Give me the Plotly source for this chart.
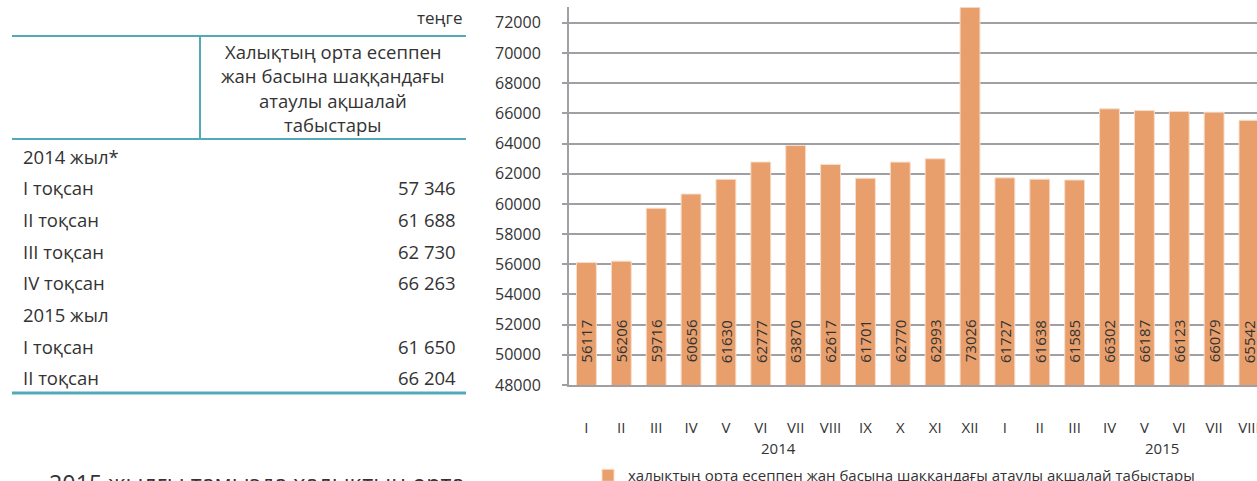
import plotly.graph_objects as go

# Chart data: monthly nominal money income per capita, tenge
months = ["I", "II", "III", "IV", "V", "VI", "VII", "VIII", "IX", "X", "XI", "XII",
          "I", "II", "III", "IV", "V", "VI", "VII", "VIII"]
income = [56117, 56206, 59716, 60656, 61630, 62777, 63870, 62617, 61701, 62770, 62993, 73026,
          61727, 61638, 61585, 66302, 66187, 66123, 66079, 65542]
years = ["2014", "2015"]
year_centers = [5.5, 16.5]
series_name = "халықтың орта есеппен жан басына шаққандағы атаулы ақшалай табыстары"

# Table on the left
table_unit = "теңге"
table_header = ["Халықтың орта есеппен", "жан басына шаққандағы", "атаулы ақшалай", "табыстары"]
table_labels = ["2014 жыл*", "І тоқсан", "ІІ тоқсан", "ІІІ тоқсан", "ІV тоқсан",
                "2015 жыл", "І тоқсан", "ІІ тоқсан"]
table_values = ["", "57 346", "61 688", "62 730", "66 263", "", "61 650", "66 204"]
body_text = "2015 жылғы тамызда халықтың орта"

W, H = 1257, 481
PLOT_L, PLOT_R, PLOT_T, PLOT_B = 569, 1257, 7, 385
BAR_COLOR = "#E89F6C"
GRID = "#A0A0A4"
TEAL = "#52AAB8"
TEXT = "#333333"
FONT = "Open Sans, Noto Sans, sans-serif"


def px(x):
    return (x - PLOT_L) / (PLOT_R - PLOT_L)


def py(y):
    return (PLOT_B - y) / (PLOT_B - PLOT_T)


xs = list(range(len(months)))

fig = go.Figure()
fig.add_trace(go.Bar(
    x=xs,
    y=income,
    name=series_name,
    marker=dict(color=BAR_COLOR, line=dict(color="#F7DDCB", width=1)),
    showlegend=True,
))

annotations = []
# Value labels inside bars
for i, v in zip(xs, income):
    annotations.append(dict(
        x=i, y=50900, xref="x", yref="y", text=str(v), textangle=-90,
        xanchor="center", yanchor="middle",
        showarrow=False, font=dict(size=15, color=TEXT, family=FONT),
    ))

# Year labels under month ticks
for yr, c in zip(years, year_centers):
    annotations.append(dict(
        x=c, y=py(448), xref="x", yref="paper", text=yr, showarrow=False,
        xanchor="center", yanchor="middle",
        font=dict(size=15, color=TEXT, family=FONT),
    ))

# Table text
annotations.append(dict(
    x=px(465), y=py(18), xref="paper", yref="paper", text=table_unit,
    xanchor="right", yanchor="middle", showarrow=False,
    font=dict(size=17, color=TEXT, family=FONT),
))
for k, line in enumerate(table_header):
    annotations.append(dict(
        x=px(333), y=py(51 + k * 24.5), xref="paper", yref="paper", text=line,
        xanchor="center", yanchor="middle", showarrow=False,
        font=dict(size=18.5, color=TEXT, family=FONT),
    ))
for k, (lab, val) in enumerate(zip(table_labels, table_values)):
    yy = py(156 + k * 31.7)
    annotations.append(dict(
        x=px(21), y=yy, xref="paper", yref="paper", text=lab,
        xanchor="left", yanchor="middle", showarrow=False,
        font=dict(size=18.5, color=TEXT, family=FONT),
    ))
    if val:
        annotations.append(dict(
            x=px(458), y=yy, xref="paper", yref="paper", text=val,
            xanchor="right", yanchor="middle", showarrow=False,
            font=dict(size=18.5, color=TEXT, family=FONT),
        ))
annotations.append(dict(
    x=px(47), y=py(465), xref="paper", yref="paper", text=body_text,
    xanchor="left", yanchor="top", showarrow=False,
    font=dict(size=23.3, color=TEXT, family=FONT),
))

shapes = [
    dict(type="line", xref="paper", yref="paper", x0=px(12), x1=px(466), y0=py(36), y1=py(36),
         line=dict(color=TEAL, width=2)),
    dict(type="line", xref="paper", yref="paper", x0=px(12), x1=px(466), y0=py(139), y1=py(139),
         line=dict(color=TEAL, width=2)),
    dict(type="line", xref="paper", yref="paper", x0=px(200), x1=px(200), y0=py(36), y1=py(139),
         line=dict(color=TEAL, width=2)),
    dict(type="line", xref="paper", yref="paper", x0=px(12), x1=px(466), y0=py(393), y1=py(393),
         line=dict(color=TEAL, width=3)),
]

fig.update_layout(
    width=W,
    height=H,
    margin=dict(l=PLOT_L, r=W - PLOT_R, t=PLOT_T, b=H - PLOT_B, pad=0, autoexpand=False),
    paper_bgcolor="white",
    plot_bgcolor="white",
    bargap=0.43,
    font=dict(family=FONT, color=TEXT),
    xaxis=dict(
        range=[-0.5, 19.23],
        tickmode="array",
        tickvals=xs,
        ticktext=months,
        showgrid=False,
        showline=True,
        linecolor=GRID,
        linewidth=2,
        ticks="",
        ticklabelstandoff=28,
        ticklabeloverflow="allow",
        tickfont=dict(size=15, color=TEXT),
        automargin=False,
        fixedrange=True,
    ),
    yaxis=dict(
        range=[48000, 73050],
        dtick=2000,
        tick0=48000,
        tickformat="d",
        showgrid=True,
        gridcolor=GRID,
        gridwidth=1.5,
        showline=True,
        linecolor=GRID,
        linewidth=2,
        ticks="outside",
        ticklen=5,
        tickcolor=GRID,
        tickwidth=1.5,
        ticklabelstandoff=18,
        tickfont=dict(size=16, color=TEXT),
        zeroline=False,
        automargin=False,
        fixedrange=True,
    ),
    legend=dict(
        orientation="h",
        x=px(588),
        y=py(459),
        xanchor="left",
        yanchor="top",
        font=dict(size=15, color=TEXT),
        bgcolor="rgba(0,0,0,0)",
    ),
    annotations=annotations,
    shapes=shapes,
)

# drop the default 8px page margin so the figure fills the window exactly
fig.write_html(
    "out.html",
    config={"displayModeBar": False},
    post_script="document.body.style.margin='0';",
)
